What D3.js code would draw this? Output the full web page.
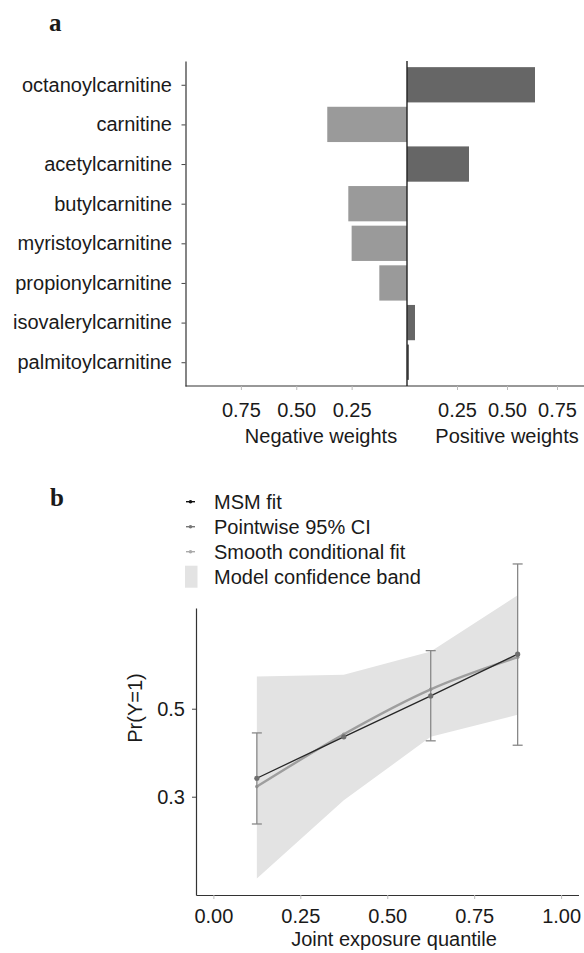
<!DOCTYPE html>
<html>
<head>
<meta charset="utf-8">
<script src="https://cdn.jsdelivr.net/npm/d3@7"></script>
<style>
  html, body { margin: 0; padding: 0; background: #fff; }
  svg { display: block; }
  text { font-family: "Liberation Sans", Arial, sans-serif; fill: #1a1a1a; }
  .panel-label { font-family: "Liberation Serif", "Times New Roman", serif; font-weight: bold; }
</style>
</head>
<body>
<svg id="chart" width="584" height="953"></svg>
<script>
// ---------- Data ----------
const metabolites = ["octanoylcarnitine", "carnitine", "acetylcarnitine", "butylcarnitine",
  "myristoylcarnitine", "propionylcarnitine", "isovalerylcarnitine", "palmitoylcarnitine"];
const weights = [0.64, -0.36, 0.31, -0.265, -0.25, -0.125, 0.04, 0.01];
const weightTicks = [0.25, 0.50, 0.75];

const quantiles = [0.125, 0.375, 0.625, 0.875];
const msmFit = [0.342, 0.436, 0.529, 0.624];
const ciLow = [0.238, null, 0.427, 0.417];
const ciHigh = [0.445, null, 0.632, 0.829];
const smoothFit = [0.323, 0.442, 0.544, 0.617];
const bandLow = [0.114, 0.292, 0.436, 0.486];
const bandHigh = [0.573, 0.577, 0.630, 0.758];
const quantileTicks = [0, 0.25, 0.50, 0.75, 1.00];
const probTicks = [0.3, 0.5];
const legendLabels = ["MSM fit", "Pointwise 95% CI", "Smooth conditional fit", "Model confidence band"];

// ---------- Setup ----------
const svg = d3.select("#chart");
const FS = 20;
const FONT = '"Liberation Sans", Arial, sans-serif';

// ================= Panel a =================
const gA = svg.append("g");
gA.append("text").attr("class", "panel-label").attr("x", 49).attr("y", 31)
  .attr("font-size", 25).text("a");

const yA = d3.scalePoint().domain(metabolites).range([61, 386]).padding(0.6);
const xNeg = d3.scaleLinear().domain([0, 1]).range([407, 185.5]);
const xPos = d3.scaleLinear().domain([0, 1]).range([407, 607]);
const barH = yA.step() * 0.89;

const rows = metabolites.map((m, i) => ({ name: m, w: weights[i] }));

gA.selectAll("rect.bar").data(rows).join("rect")
  .attr("class", "bar")
  .attr("x", d => d.w >= 0 ? xPos(0) : xNeg(-d.w))
  .attr("width", d => d.w >= 0 ? xPos(d.w) - xPos(0) : xNeg(0) - xNeg(-d.w))
  .attr("y", d => yA(d.name) - barH / 2)
  .attr("height", barH)
  .attr("fill", d => d.w >= 0 ? "#666666" : "#9a9a9a");

// left axis
const axA = d3.axisLeft(yA).tickSize(4).tickPadding(9.5).tickSizeOuter(0);
const gAy = gA.append("g").attr("transform", "translate(185.5,0)").call(axA);
gAy.select(".domain").attr("stroke", "#333").attr("stroke-width", 1.2);
gAy.selectAll(".tick line").attr("stroke", "#444");
gAy.selectAll(".tick text").attr("font-size", FS).attr("fill", "#1a1a1a").style("font-family", FONT);

// bottom axis line
gA.append("line").attr("x1", 185.5).attr("x2", 584).attr("y1", 386).attr("y2", 386)
  .attr("stroke", "#333").attr("stroke-width", 1.2);

// zero line
gA.append("line").attr("x1", xNeg(0)).attr("x2", xNeg(0)).attr("y1", 61).attr("y2", 386)
  .attr("stroke", "#222").attr("stroke-width", 1.4);

function drawWeightAxis(scale) {
  const g = gA.append("g").attr("transform", "translate(0,386)")
    .call(d3.axisBottom(scale).tickValues(weightTicks).tickFormat(d3.format(".2f")).tickSize(4).tickPadding(12.5));
  g.select(".domain").remove();
  g.selectAll(".tick line").attr("stroke", "#bbb");
  g.selectAll(".tick text").attr("font-size", FS).attr("fill", "#1a1a1a").style("font-family", FONT);
}
drawWeightAxis(xNeg);
drawWeightAxis(xPos);

gA.append("text").attr("x", 321).attr("y", 443).attr("text-anchor", "middle")
  .attr("font-size", FS).text("Negative weights");
gA.append("text").attr("x", 507).attr("y", 443).attr("text-anchor", "middle")
  .attr("font-size", FS).text("Positive weights");

// ================= Panel b =================
const gB = svg.append("g");
gB.append("text").attr("class", "panel-label").attr("x", 50).attr("y", 506)
  .attr("font-size", 25).text("b");

const xB = d3.scaleLinear().domain([-0.05, 1.05]).range([196, 578.5]);
const yB = d3.scaleLinear().domain([0.0766, 0.7289]).range([895, 608]);

const pts = quantiles.map((q, i) => ({
  q, msm: msmFit[i], lo: ciLow[i], hi: ciHigh[i], sm: smoothFit[i], bl: bandLow[i], bh: bandHigh[i]
}));

// confidence band
gB.append("path").datum(pts)
  .attr("d", d3.area().x(d => xB(d.q)).y0(d => yB(d.bl)).y1(d => yB(d.bh)))
  .attr("fill", "#e3e3e3");

// smooth conditional fit
gB.append("path").datum(pts)
  .attr("d", d3.line().x(d => xB(d.q)).y(d => yB(d.sm)).curve(d3.curveMonotoneX))
  .attr("fill", "none").attr("stroke", "#9e9e9e").attr("stroke-width", 2.4);
gB.selectAll("circle.sm").data(pts).join("circle").attr("class", "sm")
  .attr("cx", d => xB(d.q)).attr("cy", d => yB(d.sm)).attr("r", 1.8).attr("fill", "#999");

// MSM fit
gB.append("path").datum(pts)
  .attr("d", d3.line().x(d => xB(d.q)).y(d => yB(d.msm)))
  .attr("fill", "none").attr("stroke", "#262626").attr("stroke-width", 1.3);

// error bars
const eb = pts.filter(d => d.lo != null);
const capW = 5;
gB.selectAll("line.ebv").data(eb).join("line").attr("class", "ebv")
  .attr("x1", d => xB(d.q)).attr("x2", d => xB(d.q))
  .attr("y1", d => yB(d.lo)).attr("y2", d => yB(d.hi))
  .attr("stroke", "#888").attr("stroke-width", 1.3);
["lo", "hi"].forEach(k => {
  gB.selectAll("line.cap" + k).data(eb).join("line").attr("class", "cap" + k)
    .attr("x1", d => xB(d.q) - capW).attr("x2", d => xB(d.q) + capW)
    .attr("y1", d => yB(d[k])).attr("y2", d => yB(d[k]))
    .attr("stroke", "#888").attr("stroke-width", 1.3);
});
gB.selectAll("circle.msm").data(pts).join("circle").attr("class", "msm")
  .attr("cx", d => xB(d.q)).attr("cy", d => yB(d.msm)).attr("r", 2.6).attr("fill", "#6e6e6e");

// axes
const gBy = gB.append("g").attr("transform", "translate(196,0)")
  .call(d3.axisLeft(yB).tickValues(probTicks).tickFormat(d3.format(".1f")).tickSize(4).tickPadding(7).tickSizeOuter(0));
gBy.select(".domain").attr("stroke", "#333").attr("stroke-width", 1.2);
gBy.selectAll(".tick line").attr("stroke", "#444");
gBy.selectAll(".tick text").attr("font-size", FS).attr("fill", "#1a1a1a").style("font-family", FONT);

const gBx = gB.append("g").attr("transform", "translate(0,895)")
  .call(d3.axisBottom(xB).tickValues(quantileTicks).tickFormat(d3.format(".2f")).tickSize(4).tickPadding(9.5).tickSizeOuter(0));
gBx.select(".domain").attr("stroke", "#333").attr("stroke-width", 1.2);
gBx.selectAll(".tick line").attr("stroke", "#bbb");
gBx.selectAll(".tick text").attr("font-size", FS).attr("fill", "#1a1a1a").style("font-family", FONT);

gB.append("text").attr("x", 394).attr("y", 946).attr("text-anchor", "middle")
  .attr("font-size", FS).text("Joint exposure quantile");
gB.append("text").attr("transform", "translate(142,708) rotate(-90)").attr("text-anchor", "middle")
  .attr("font-size", FS).text("Pr(Y=1)");

// legend
const legColors = ["#111111", "#777777", "#aaaaaa"];
const legY = d3.scalePoint().domain(legendLabels).range([501.7, 576.7]);
legendLabels.forEach((lab, i) => {
  const cy = legY(lab);
  if (i < 3) {
    gB.append("line").attr("x1", 186).attr("x2", 195).attr("y1", cy).attr("y2", cy)
      .attr("stroke", legColors[i]).attr("stroke-width", 1.4);
    gB.append("circle").attr("cx", 190.5).attr("cy", cy).attr("r", 1.8).attr("fill", legColors[i]);
  } else {
    gB.append("rect").attr("x", 185).attr("y", cy - 11).attr("width", 12.5).attr("height", 22)
      .attr("fill", "#e3e3e3");
  }
  gB.append("text").attr("x", 214).attr("y", cy + 7).attr("font-size", FS).text(lab);
});
</script>
</body>
</html>
